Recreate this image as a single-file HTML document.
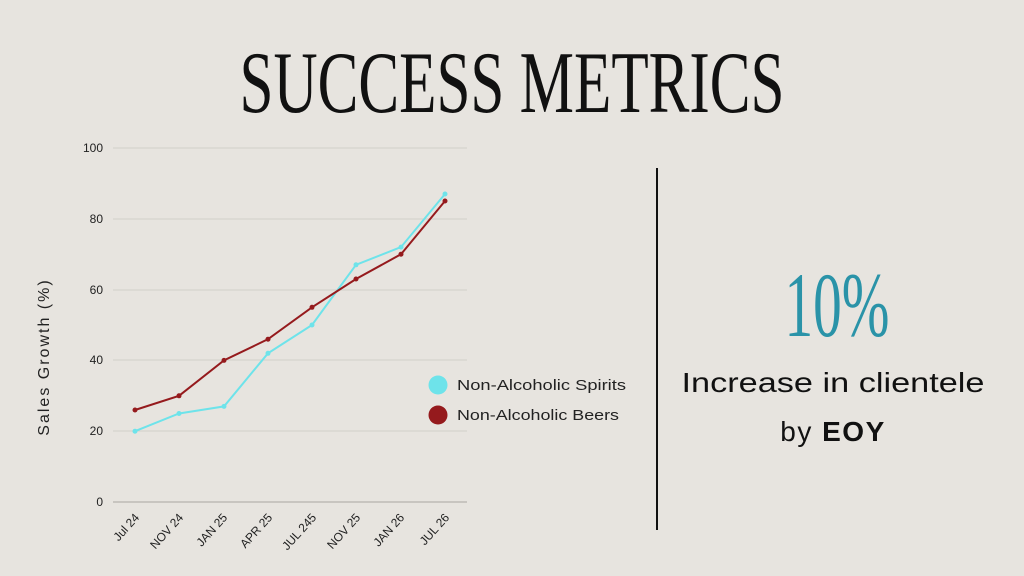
<!DOCTYPE html>
<html><head><style>
html,body{margin:0;padding:0;background:#e7e4df;}
svg{display:block;font-family:"Liberation Sans",sans-serif;}
</style></head><body>
<svg width="1024" height="576" viewBox="0 0 1024 576">
<rect width="1024" height="576" fill="#e7e4df"/>
<text x="512" y="112" text-anchor="middle" font-family="Liberation Serif,serif" font-size="88" textLength="545" lengthAdjust="spacingAndGlyphs" fill="#111">SUCCESS METRICS</text>
<g stroke="#d2cfca" stroke-width="1">
<line x1="113" x2="467" y1="148" y2="148"/><line x1="113" x2="467" y1="219" y2="219"/>
<line x1="113" x2="467" y1="290" y2="290"/><line x1="113" x2="467" y1="360" y2="360"/>
<line x1="113" x2="467" y1="431" y2="431"/>
</g>
<line x1="113" x2="467" y1="502" y2="502" stroke="#a9a6a2"/>
<g font-size="12" fill="#222" text-anchor="end">
<text x="103" y="152">100</text><text x="103" y="223">80</text><text x="103" y="294">60</text>
<text x="103" y="364">40</text><text x="103" y="435">20</text><text x="103" y="506">0</text>
</g>
<text transform="translate(49,357) rotate(-90)" text-anchor="middle" font-size="16" letter-spacing="2" fill="#222">Sales Growth (%)</text>
<g font-size="12" fill="#222" text-anchor="end">
<text transform="translate(140,518) rotate(-48)">Jul 24</text>
<text transform="translate(184,518) rotate(-48)">NOV 24</text>
<text transform="translate(228,518) rotate(-48)">JAN 25</text>
<text transform="translate(273,518) rotate(-48)">APR 25</text>
<text transform="translate(317,518) rotate(-48)">JUL 245</text>
<text transform="translate(361,518) rotate(-48)">NOV 25</text>
<text transform="translate(405,518) rotate(-48)">JAN 26</text>
<text transform="translate(450,518) rotate(-48)">JUL 26</text>
</g>
<polyline fill="none" stroke="#6ee3ea" stroke-width="2" points="135,431.2 179,413.5 224,406.4 268,353.3 312,325 356,264.8 401,247.1 445,194"/>
<polyline fill="none" stroke="#951a1d" stroke-width="2" points="135,410 179,395.8 224,360.4 268,339.2 312,307.3 356,279 401,254.2 445,201"/>
<g fill="#6ee3ea"><circle cx="135" cy="431.2" r="2.5"/><circle cx="179" cy="413.5" r="2.5"/><circle cx="224" cy="406.4" r="2.5"/><circle cx="268" cy="353.3" r="2.5"/><circle cx="312" cy="325" r="2.5"/><circle cx="356" cy="264.8" r="2.5"/><circle cx="401" cy="247.1" r="2.5"/><circle cx="445" cy="194" r="2.5"/></g>
<g fill="#951a1d"><circle cx="135" cy="410" r="2.5"/><circle cx="179" cy="395.8" r="2.5"/><circle cx="224" cy="360.4" r="2.5"/><circle cx="268" cy="339.2" r="2.5"/><circle cx="312" cy="307.3" r="2.5"/><circle cx="356" cy="279" r="2.5"/><circle cx="401" cy="254.2" r="2.5"/><circle cx="445" cy="201" r="2.5"/></g>
<circle cx="438" cy="385" r="9.5" fill="#6ee3ea"/>
<circle cx="438" cy="415" r="9.5" fill="#951a1d"/>
<text x="457" y="390" font-size="15" textLength="169" lengthAdjust="spacingAndGlyphs" fill="#222">Non-Alcoholic Spirits</text>
<text x="457" y="420" font-size="15" textLength="162" lengthAdjust="spacingAndGlyphs" fill="#222">Non-Alcoholic Beers</text>
<line x1="657" x2="657" y1="168" y2="530" stroke="#111" stroke-width="2"/>
<text x="837" y="336" text-anchor="middle" font-family="Liberation Serif,serif" font-size="92" textLength="105" lengthAdjust="spacingAndGlyphs" fill="#2a93a8">10%</text>
<text x="833" y="392" text-anchor="middle" font-size="28" textLength="303" lengthAdjust="spacingAndGlyphs" fill="#111">Increase in clientele</text>
<text x="833" y="441" text-anchor="middle" font-size="28" letter-spacing="1.5" fill="#111">by <tspan font-weight="bold">EOY</tspan></text>
</svg>
</body></html>
